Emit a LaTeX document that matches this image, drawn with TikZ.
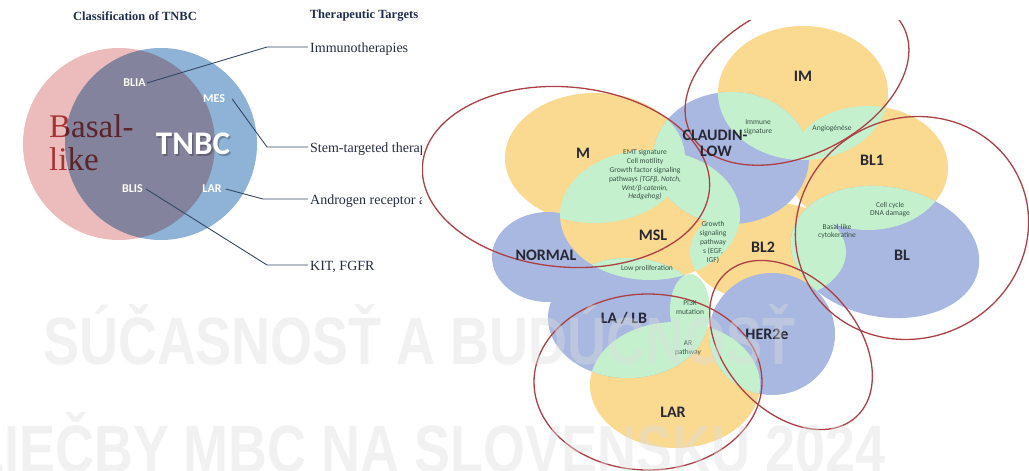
\documentclass[tikz,border=0pt]{standalone}
\usepackage{fontspec}
\setmainfont{Liberation Serif}
\newfontfamily\calibri{Carlito}
\newfontfamily\wmfont[FakeStretch=0.805]{Liberation Sans}

\definecolor{pinkc}{RGB}{236,188,188}
\definecolor{tnblue}{RGB}{142,179,214}
\definecolor{basalred}{RGB}{165,52,52}
\definecolor{navy}{RGB}{31,45,78}
\definecolor{tgtc}{RGB}{38,44,66}
\definecolor{linec}{RGB}{52,72,102}
\definecolor{orng}{RGB}{250,217,145}
\definecolor{blu}{RGB}{168,184,224}
\definecolor{grn}{RGB}{196,240,206}
\definecolor{redl}{RGB}{172,64,68}
\definecolor{lbl}{RGB}{40,40,52}
\definecolor{smallc}{RGB}{55,82,66}
\definecolor{wm}{RGB}{220,220,220}

\tikzset{
  head/.style={font=\bfseries\fontsize{12.5}{14}\selectfont, text=navy, inner sep=0},
  target/.style={font=\fontsize{14}{16}\selectfont, text=tgtc, inner sep=0, anchor=base west},
  basal/.style={font=\fontsize{33}{35}\selectfont, text=basalred, inner sep=0, anchor=base west},
  sub/.style={font=\calibri\bfseries\fontsize{12}{14}\selectfont, text=white, inner sep=1},
  conn/.style={draw=linec, line width=0.9, shorten >=2},
  lab/.style={font=\calibri\bfseries\fontsize{16}{17}\selectfont, text=lbl, inner sep=0},
  note/.style={font=\calibri\fontsize{7.5}{8.8}\selectfont, text=smallc, align=center, inner sep=0},
  ring/.style={draw=redl, line width=1.3},
  wmark/.style={font=\wmfont\bfseries\fontsize{67}{67}\selectfont, text=wm, text opacity=0.4, inner sep=0, anchor=base west},
}

% subtype shapes of the overlap chart
\def\IMo{(803,93) ellipse [x radius=85, y radius=67]}
\def\Mo{(595,158) ellipse [x radius=90, y radius=65]}
\def\MSLo{(650,215) ellipse [x radius=90, y radius=65]}
\def\BLtwo{(768,252) ellipse [x radius=78, y radius=50]}
\def\BLone{(868,168) ellipse [x radius=80, y radius=62]}
\def\LARo{(675,385) ellipse [x radius=85, y radius=63]}
\def\CLb{(731,158) ellipse [x radius=78, y radius=66]}
\def\NORb{(548,257) ellipse [x radius=56, y radius=45]}
\def\LAb{(628,318) ellipse [x radius=80, y radius=60]}
\def\HERb{(772,334) ellipse [x radius=63, y radius=61]}
\def\BLb{[rotate around={-10:(885,252)}] (885,252) ellipse [x radius=95, y radius=65]}
\def\PIg{(690,310) ellipse [x radius=20, y radius=36]}

\newcommand\overlap[2]{\begin{scope}\clip #1; \fill[grn] #2; \end{scope}}

\begin{document}
\begin{tikzpicture}[x=1pt,y=-1pt]
\useasboundingbox (0,0) rectangle (1029,471);
\fill[white] (0,0) rectangle (1029,471);

% ---------- TNBC classification ----------
\node[head] (hcls) at (135,16) {Classification of TNBC};
\node[head] (htgt) at (364,16) {Therapeutic Targets};

\fill[pinkc] (119,144) circle [radius=96];
\node[basal] (basal) at (49,137) {Basal-};
\node[basal] (like) at (49,170) {like};
\begin{scope}[blend mode=multiply]
  \fill[tnblue] (161,144) circle [radius=96];
\end{scope}

\node[font=\calibri\bfseries\fontsize{33}{35}\selectfont, text=black, text opacity=0.25, inner sep=0] at (194.5,145.5) {TNBC};
\node[font=\calibri\bfseries\fontsize{33}{35}\selectfont, text=white, inner sep=0] (tnbc) at (193,144) {TNBC};

\node[sub] (blia) at (134.5,83) {BLIA};
\node[sub] (mes) at (214,99) {MES};
\node[sub] (blis) at (132.5,189) {BLIS};
\node[sub] (lar) at (212,189) {LAR};

\node[target] (imm) at (310,52) {Immunotherapies};
\node[target] (stem) at (310,152) {Stem-targeted therap};
\node[target] (andr) at (310,204) {Androgen receptor a};
\node[target] (kit) at (310,270) {KIT, FGFR};

\coordinate (kImm) at (267,47);
\coordinate (kStem) at (267,147);
\coordinate (kAndr) at (263,199);
\coordinate (kKit) at (267,265);
\draw[conn] (blia.east) -- (kImm) -- (kImm -| imm.west);
\draw[conn] ([xshift=6]mes.east) -- (kStem) -- (kStem -| stem.west);
\draw[conn] ([xshift=3]lar.east) -- (kAndr) -- (kAndr -| andr.west);
\draw[conn] ([xshift=2]blis.east) -- (kKit) -- (kKit -| kit.west);

% ---------- overlap chart ----------
\fill[white] (422,20) rectangle (1029,471);
\begin{scope}
\clip (422,20) rectangle (1029,471);

% Lehmann subtypes
\fill[orng] \IMo;
\fill[orng] \BLone;
\fill[orng] \BLtwo;
\fill[orng] \Mo;
\fill[orng] \LARo;
\fill[blu] \NORb;
\fill[orng] \MSLo;
% intrinsic subtypes
\fill[blu] \CLb;
\fill[blu] \LAb;
\fill[blu] \HERb;
\fill[blu] \BLb;

% shared features
\overlap{\IMo}{\CLb}
\overlap{\IMo}{\BLone}
\overlap{\Mo}{\CLb}
\overlap{\Mo}{\MSLo}
\overlap{\MSLo}{\CLb}
\overlap{\MSLo}{\BLtwo}
\overlap{\MSLo}{\LAb}
\overlap{\BLb}{\BLone}
\overlap{\BLb}{\BLtwo}
\overlap{\LARo}{\LAb}
\overlap{\LARo}{\HERb}
\fill[grn] \PIg;

% groupings
\draw[ring, rotate around={26:(797,80)}] (797,80) ellipse [x radius=119, y radius=75];
\draw[ring, rotate around={-5:(566,177)}] (566,177) ellipse [x radius=144, y radius=90];
\draw[ring, rotate around={25:(912,228)}] (912,228) ellipse [x radius=118, y radius=110];
\draw[ring, rotate around={-48:(791,345)}] (791,345) ellipse [x radius=97, y radius=66];
\draw[ring] (648,382) ellipse [x radius=114, y radius=88];
\end{scope}

\node[lab] (im) at (803,76) {IM};
\node[lab] (claudin) at (715,135) {CLAUDIN-};
\node[lab] (low) at (716,151) {LOW};
\node[lab] (m) at (583,153) {M};
\node[lab] (msl) at (653,235) {MSL};
\node[lab] (blone) at (872,160) {BL1};
\node[lab] (bltwo) at (763,247) {BL2};
\node[lab] (normal) at (546,255) {NORMAL};
\node[lab] (bl) at (902,255) {BL};
\node[lab] (lalb) at (624,318) {LA / LB};
\node[lab] (her) at (767,334) {HER2e};
\node[lab] (larr) at (673,412) {LAR};

\node[note] (immune) at (758,127.5) {Immune\\signature};
\node[note] (angio) at (832,129) {Angiogénèse};
\node[note] (emt) at (645,175) {EMT signature\\Cell motility\\Growth factor signaling\\pathways \textit{(TGFβ, Notch,}\\\textit{Wnt/β-catenin,}\\\textit{Hedgehog)}};
\node[note] (growth) at (713,242.5) {Growth\\signaling\\pathway\\s (EGF,\\IGF)};
\node[note] (lowp) at (647,268) {Low proliferation};
\node[note] (cell) at (890,209.5) {Cell cycle\\DNA damage};
\node[note] (basl) at (837,231.5) {Basal-like\\cytokeratine};
\node[note] (pik) at (690,307.5) {PI3K\\mutation};
\node[note] (arp) at (688,348.5) {AR\\pathway};

% ---------- watermark ----------
\node[wmark] (wm1) at (43,364) {SÚČASNOSŤ A BUDÚCNOSŤ};
\node[wmark] (wm2) at (-29,472) {LIEČBY MBC NA SLOVENSKU 2024};
\end{tikzpicture}
\end{document}
